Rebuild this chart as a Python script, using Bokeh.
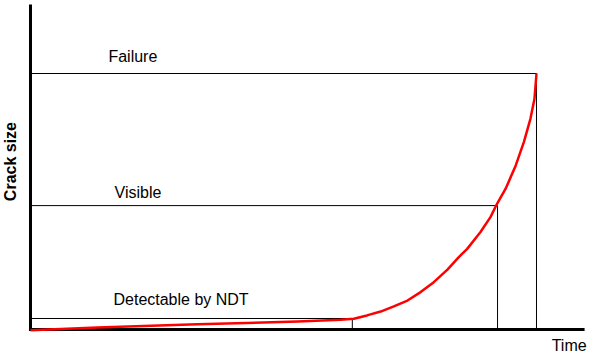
import math
from bokeh.plotting import figure
from bokeh.models import Range1d
from bokeh.core.properties import value
from bokeh.embed import file_html
from bokeh.resources import INLINE

# crack growth curve (time vs crack size, arbitrary units)
time = [0, 13.2, 33.0, 52.8, 61.3, 63.9, 66.5, 69.2, 71.8, 74.5, 77.1, 79.7,
        82.4, 84.6, 86.3, 88.9, 90.9, 92.2, 93.9, 95.9, 97.5, 98.8, 99.6, 100]
crack = [-0.3, 0.8, 2.0, 3.1, 3.8, 4.2, 5.5, 7.0, 9.0, 11.3, 14.6, 18.5,
         23.4, 28.2, 31.5, 38.0, 43.9, 49.1, 55.0, 64.1, 73.2, 82.3, 90.1, 100]

# threshold levels
level_names = ["Failure", "Visible", "Detectable by NDT"]
level_size = [100, 48.4, 4.3]
level_time = [100, 92.3, 63.6]

axis_time_max = 109.5
axis_crack_max = 127.0

FONT = "Liberation Sans"

p = figure(width=591, height=356, output_backend="svg", toolbar_location=None,
           x_axis_type=None, y_axis_type=None, min_border=0,
           x_range=Range1d(-5.929, 110.87), y_range=Range1d(-10.55, 128.52),
           outline_line_color=None, background_fill_color="white",
           border_fill_color="white")
p.grid.visible = False

# threshold lines
p.segment(x0=[0] * 3, y0=level_size, x1=level_time, y1=level_size,
          line_color="black", line_width=1)
p.segment(x0=level_time, y0=[0] * 3, x1=level_time, y1=level_size,
          line_color="black", line_width=1)

# axes
p.segment(x0=[0, -0.3], y0=[-0.4, 0], x1=[0, axis_time_max], y1=[axis_crack_max, 0],
          line_color="black", line_width=3)

# curve
p.line(time, crack, line_color="#ff0000", line_width=2.5, line_join="round")

# labels
p.text(x=[15.4, 16.6, 16.4], y=[106.6, 53.5, 11.7], text=level_names,
       text_font=value(FONT), text_font_size="16px", text_color="black",
       text_baseline="alphabetic", text_align="left")
p.text(x=[103.0], y=[-6.3], text=["Time"], text_font=value(FONT),
       text_font_size="16px", text_color="black", text_baseline="alphabetic",
       text_align="left")
p.text(x=[-3.86], y=[65.6], text=["Crack size"], angle=math.pi / 2,
       text_font=value(FONT), text_font_size="16px", text_font_style="bold",
       text_color="black", text_baseline="alphabetic", text_align="center")

open("out.html", "w").write(file_html(p, INLINE))
